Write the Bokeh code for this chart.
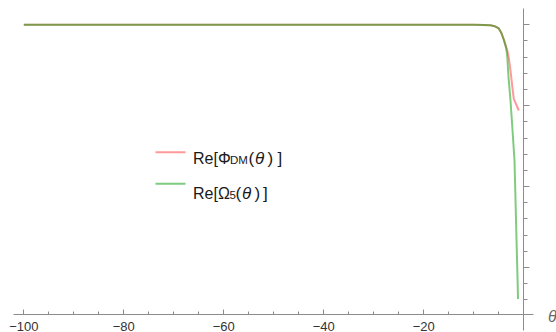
from bokeh.plotting import figure
from bokeh.models import Range1d, LinearAxis, FixedTicker, CustomJSTickFormatter, Label
from bokeh.embed import file_html
from bokeh.resources import INLINE

# ---- data ----
theta_phi = [-100, -10, -8, -6.66, -5.66, -5.0, -4.46, -4.0, -3.52, -3.2, -3.0, -2.66, -2.32, -2.0, -1.0]
re_phi = [17, 17, 16.99, 16.97, 16.89, 16.77, 16.47, 16.08, 15.62, 15.3, 14.97, 14.17, 13.24, 12.42, 11.70]

theta_omega = [-100, -10, -8, -6.66, -5.66, -5.0, -4.46, -4.0, -3.52, -3.3, -3.06, -2.66, -2.32, -1.86, -1.15]
re_omega = [17, 17, 16.99, 16.97, 16.89, 16.77, 16.47, 16.08, 15.55, 15.0, 13.76, 12.32, 10.77, 8.61, 0.05]

x_major_ticks = [-100, -80, -60, -40, -20]
x_minor_ticks = [-100, -95, -90, -85, -80, -75, -70, -65, -60, -55, -50, -45, -40, -35, -30, -25, -20, -15, -10, -5]
y_major_ticks = [2, 7, 12, 17]
y_minor_ticks = list(range(0, 18))

# ---- pixel <-> data mapping (frame fills the whole canvas) ----
W, H = 556, 332
PX0 = 523.3     # pixel of theta = 0
PXU = 5.0       # pixels per theta unit
PY0 = 299.3     # pixel of y = 0
PYU = 16.18     # pixels per y unit


def X(px):
    return (px - PX0) / PXU


def Y(py):
    return (PY0 - py) / PYU


p = figure(width=W, height=H, output_backend="svg", toolbar_location=None,
           x_range=Range1d(X(0), X(W)), y_range=Range1d(Y(H), Y(0)),
           x_axis_location=None, y_axis_location=None, min_border=0)
p.outline_line_color = None
p.xgrid.visible = False
p.ygrid.visible = False
p.background_fill_color = "white"
p.border_fill_color = "white"

AX = "#8c8c8c"

xa = LinearAxis(fixed_location=Y(314), bounds=(X(13.3), X(533.3)),
                ticker=FixedTicker(ticks=x_major_ticks, minor_ticks=x_minor_ticks),
                formatter=CustomJSTickFormatter(code="return tick < 0 ? '\u2212' + Math.abs(tick) : String(tick)"))
xa.axis_line_color = AX
xa.major_tick_line_color = AX
xa.minor_tick_line_color = AX
xa.major_tick_in = 5
xa.major_tick_out = 0
xa.minor_tick_in = 3
xa.minor_tick_out = 0
xa.major_label_standoff = 7
xa.major_label_text_font = "Liberation Sans"
xa.major_label_text_font_size = "13px"
xa.major_label_text_color = "#333333"
p.add_layout(xa, "below")

ya = LinearAxis(fixed_location=0, bounds=(Y(330), Y(8)),
                ticker=FixedTicker(ticks=y_major_ticks, minor_ticks=y_minor_ticks),
                formatter=CustomJSTickFormatter(code="return ''"))
ya.axis_line_color = AX
ya.major_tick_line_color = AX
ya.minor_tick_line_color = AX
ya.major_tick_in = 0
ya.major_tick_out = 6
ya.minor_tick_in = 0
ya.minor_tick_out = 4
p.add_layout(ya, "right")

RED = "#ff0000"
GREEN = "#009900"
p.line(theta_phi, re_phi, line_color=RED, line_alpha=0.4, line_width=2, line_join="round")
p.line(theta_omega, re_omega, line_color=GREEN, line_alpha=0.5, line_width=2, line_join="round")

# legend samples
p.line([X(155), X(185)], [Y(151.7), Y(151.7)], line_color=RED, line_alpha=0.4, line_width=2)
p.line([X(155), X(185)], [Y(183.3), Y(183.3)], line_color=GREEN, line_alpha=0.5, line_width=2)

FONT = "Liberation Sans"
TXT = "#1a1a1a"


def lab(px, py, text, size="16px", style="normal", color=TXT, baseline="alphabetic",
        align="left", font=FONT):
    p.add_layout(Label(x=X(px), y=Y(py), text=text, text_font=font, text_font_size=size,
                       text_font_style=style, text_color=color, text_baseline=baseline,
                       text_align=align))


# legend line 1: Re[Φ_DM(θ)]
b1 = 157.5
lab(192.5, b1, "Re[\u03a6")
lab(229.5, b1 + 2.0, "DM", size="11.5px")
lab(248.0, b1, "(", size="17px")
lab(254.5, b1, "\u03b8", size="17px", style="italic")
lab(267.0, b1, ")", size="17px")
lab(277.0, b1, "]", size="17px")

# legend line 2: Re[Ω_5(θ)]
b2 = 192.5
lab(192.5, b2, "Re[\u03a9")
lab(229.0, b2 + 2.0, "5", size="11.5px")
lab(235.0, b2, "(", size="17px")
lab(241.5, b2, "\u03b8", size="17px", style="italic")
lab(254.0, b2, ")", size="17px")
lab(262.5, b2, "]", size="17px")

# axis label θ
lab(547.5, 315.5, "\u03b8", size="16px", style="italic", color="#666666", baseline="middle")

open("out.html", "w").write(file_html(p, INLINE))
